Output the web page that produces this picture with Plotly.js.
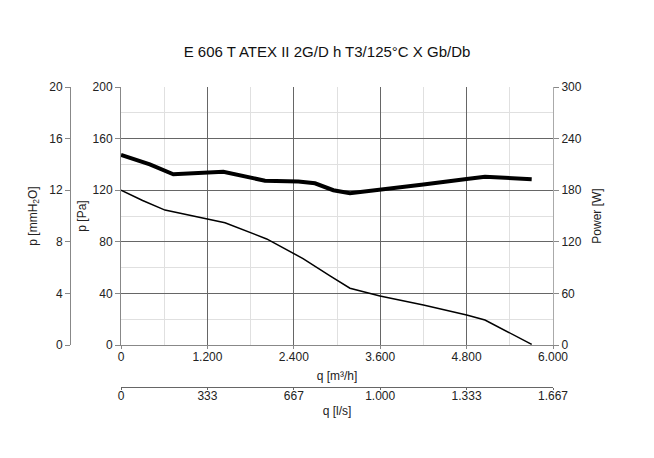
<!DOCTYPE html>
<html>
<head>
<meta charset="utf-8">
<script src="https://cdn.plot.ly/plotly-3.0.1.min.js"></script>
<style>html,body{margin:0;padding:0;background:#fff;}#chart{width:654px;height:458px;}</style>
</head>
<body>
<div id="chart"></div>
<script>
// Pressure curve (q in m³/h, p in Pa)
var qPressure = [0, 300, 611, 1190, 1444, 2023, 2528, 2903, 3180, 3597, 4200, 4801, 5055, 5704];
var pressurePa = [120, 112, 104.6, 97.7, 94.8, 82.2, 67, 53.5, 44, 38, 31, 23.3, 19.4, 0.5];
// Power curve (q in m³/h, power in W)
var qPower = [0, 400, 727, 1190, 1421, 2000, 2463, 2694, 2949, 3180, 3597, 4200, 4801, 5055, 5704];
var powerW = [221, 210, 198.5, 200.8, 201.5, 191, 190, 188, 180, 176.4, 180.2, 186.5, 193, 195.7, 192.7];
// Secondary axis ticks (l/s)
var lsTickVals = [0, 333.333, 666.667, 1000, 1333.333, 1666.667];
var lsTickText = ['0', '333', '667', '1.000', '1.333', '1.667'];

var FONT = 'Liberation Sans, Arial, sans-serif';
var tickFont = {family: FONT, size: 12, color: '#222'};
var titleFont = {family: FONT, size: 12, color: '#222'};

var traces = [
  {x: qPressure, y: pressurePa, xaxis: 'x', yaxis: 'y', mode: 'lines',
   line: {color: '#000', width: 1.5}, hoverinfo: 'skip', showlegend: false},
  {x: qPower, y: powerW, xaxis: 'x', yaxis: 'y3', mode: 'lines',
   line: {color: '#000', width: 4}, hoverinfo: 'skip', showlegend: false},
  // dummy traces so secondary axes are drawn
  {x: [0, 6000], y: [0, 20], xaxis: 'x', yaxis: 'y2', mode: 'lines',
   line: {width: 0}, opacity: 0, hoverinfo: 'skip', showlegend: false},
  {x: [0, 1666.667], y: [0, 200], xaxis: 'x2', yaxis: 'y', mode: 'lines',
   line: {width: 0}, opacity: 0, hoverinfo: 'skip', showlegend: false}
];

var layout = {
  width: 654, height: 458,
  margin: {l: 20, r: 20, t: 87, b: 30},
  paper_bgcolor: '#fff', plot_bgcolor: '#fff',
  separators: ',.',
  font: {family: FONT, size: 12, color: '#222'},
  title: {text: 'E 606 T ATEX II 2G/D h T3/125°C X Gb/Db',
          font: {family: FONT, size: 15, color: '#111'},
          x: 0.5, xanchor: 'center', xref: 'paper',
          y: (458 - 52) / 458, yanchor: 'middle', yref: 'container'},
  xaxis: {
    domain: [0.1645, 0.86808], range: [0, 6000],
    dtick: 1200, tick0: 0, tickformat: ',d', separatethousands: true,
    showgrid: true, gridcolor: '#666', gridwidth: 1,
    minor: {dtick: 600, showgrid: true, gridcolor: '#e0e0e0', gridwidth: 1},
    showline: true, linecolor: '#888', linewidth: 1,
    ticks: 'outside', ticklen: 3, tickcolor: '#888',
    ticklabelstandoff: -2,
    tickfont: tickFont, zeroline: false,
    anchor: 'y',
    title: {text: 'q [m³/h]', font: titleFont, standoff: 8}
  },
  xaxis2: {
    overlaying: 'x', anchor: 'free', position: 0.12023, side: 'bottom',
    range: [0, 1666.667], tickvals: lsTickVals, ticktext: lsTickText,
    showgrid: false, zeroline: false,
    showline: true, linecolor: '#666', linewidth: 1,
    ticks: 'outside', ticklen: 2, tickcolor: '#666',
    ticklabelstandoff: -4,
    tickfont: tickFont,
    title: {text: 'q [l/s]', font: titleFont, standoff: 4}
  },
  yaxis: {
    domain: [0.2434, 1], range: [0, 200], dtick: 40, tick0: 0,
    showgrid: true, gridcolor: '#666', gridwidth: 1,
    minor: {dtick: 20, showgrid: true, gridcolor: '#e0e0e0', gridwidth: 1},
    showline: true, linecolor: '#888', linewidth: 1,
    ticks: 'outside', ticklen: 5, tickcolor: '#888',
    tickfont: tickFont, zeroline: false, anchor: 'x',
    title: {text: 'p [Pa]', font: titleFont, standoff: 3}
  },
  yaxis2: {
    overlaying: 'y', anchor: 'free', position: 0.08143, side: 'left',
    range: [0, 20], dtick: 4, tick0: 0,
    showgrid: false, zeroline: false,
    showline: true, linecolor: '#888', linewidth: 1,
    ticks: 'outside', ticklen: 5, tickcolor: '#888',
    tickfont: tickFont,
    title: {text: 'p [mmH<sub>2</sub>O]', font: titleFont, standoff: 8}
  },
  yaxis3: {
    overlaying: 'y', anchor: 'x', side: 'right',
    range: [0, 300], dtick: 60, tick0: 0,
    showgrid: false, zeroline: false,
    showline: true, linecolor: '#aaa', linewidth: 1,
    ticks: 'outside', ticklen: 5, tickcolor: '#888',
    tickfont: tickFont,
    title: {text: 'Power [W]', font: titleFont, standoff: 11}
  }
};

Plotly.newPlot('chart', traces, layout, {staticPlot: true, displayModeBar: false});
</script>
</body>
</html>
